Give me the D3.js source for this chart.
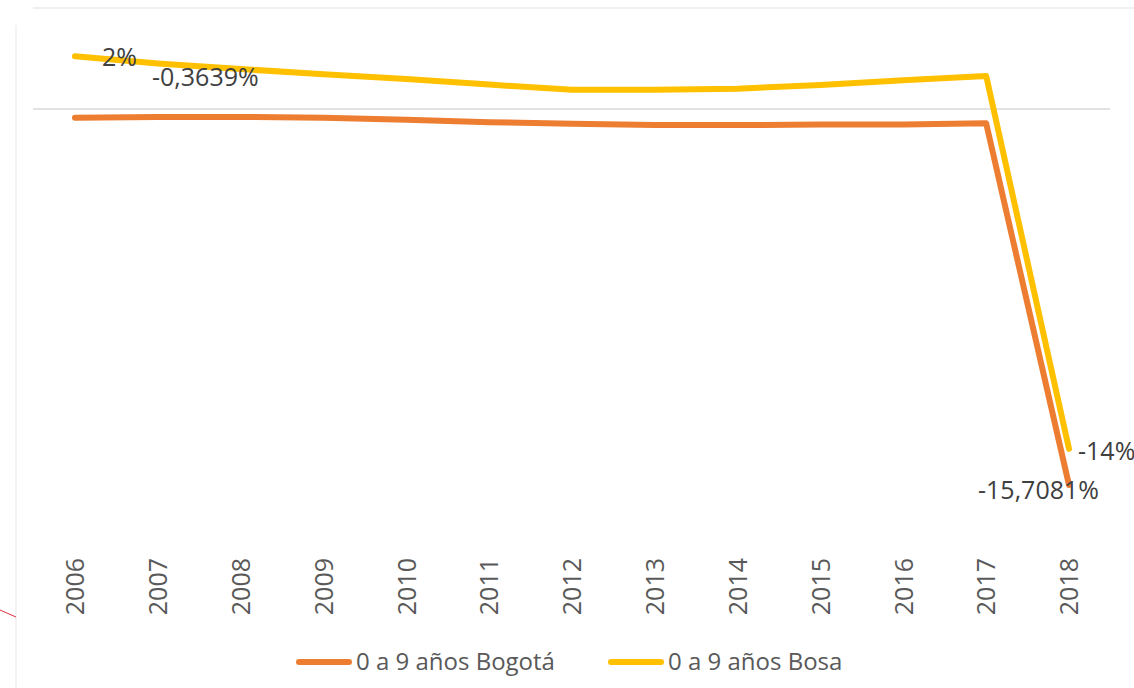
<!DOCTYPE html>
<html>
<head>
<meta charset="utf-8">
<script src="https://cdn.jsdelivr.net/npm/d3@7"></script>
<style>
  body { margin: 0; background: #fff; }
  text { font-family: "Open Sans", sans-serif; fill: #404040; }
</style>
</head>
<body>
<div id="container"></div>
<script>
const WIDTH = 1134;
const HEIGHT = 688;

// Data (percent)
const years = ['2006', '2007', '2008', '2009', '2010', '2011', '2012', '2013', '2014', '2015', '2016', '2017', '2018'];
const bogota = [-0.3639, -0.33, -0.33, -0.37, -0.45, -0.55, -0.62, -0.67, -0.67, -0.65, -0.65, -0.6, -15.7081];
const bosa = [2.2, 1.9, 1.67, 1.45, 1.25, 1.02, 0.8, 0.8, 0.85, 1.0, 1.2, 1.38, -14.2];
const seriesNames = ['0 a 9 años Bogotá', '0 a 9 años Bosa'];
const seriesColors = ['#ED7D31', '#FFC000'];

const svg = d3.select('#container').append('svg')
    .attr('width', WIDTH)
    .attr('height', HEIGHT);

// Faint frame of the pasted picture
svg.append('line').attr('x1', 33).attr('x2', WIDTH).attr('y1', 8).attr('y2', 8)
    .attr('stroke', '#f0f0f0').attr('stroke-width', 2);
svg.append('line').attr('x1', 16).attr('x2', 16).attr('y1', 25).attr('y2', HEIGHT)
    .attr('stroke', '#f3f3f3').attr('stroke-width', 2);
svg.append('line').attr('x1', 0).attr('x2', 16).attr('y1', 610).attr('y2', 617)
    .attr('stroke', '#e03040').attr('stroke-width', 1);

// Scales
const x = d3.scalePoint().domain(years).range([75, 1069]);
const y = d3.scaleLinear().domain([0, -15.7081]).range([109, 485]);

// Zero line
svg.append('line')
    .attr('x1', 33).attr('x2', 1110)
    .attr('y1', y(0)).attr('y2', y(0))
    .attr('stroke', '#d9d9d9').attr('stroke-width', 1.5);

// X axis labels
const xAxis = d3.axisBottom(x).tickSize(0).tickPadding(0);
const gx = svg.append('g')
    .attr('transform', 'translate(0,558)')
    .call(xAxis);
gx.select('.domain').remove();
gx.selectAll('text')
    .attr('transform', 'rotate(-90)')
    .attr('x', 0).attr('y', 0).attr('dy', '0.35em')
    .style('text-anchor', 'end')
    .style('font-family', '"Open Sans", sans-serif')
    .style('font-size', '25px')
    .style('fill', '#595959');

// Lines
const line = d3.line()
    .x((d, i) => x(years[i]))
    .y(d => y(d));

[bogota, bosa].forEach((vals, k) => {
  svg.append('path')
      .datum(vals)
      .attr('d', line)
      .attr('fill', 'none')
      .attr('stroke', seriesColors[k])
      .attr('stroke-width', 6)
      .attr('stroke-linejoin', 'round')
      .attr('stroke-linecap', 'round');
});

// Data labels
const labels = [
  { text: '2%', i: 0, vals: bosa, dx: 27, dy: 10 },
  { text: '-0,3639%', i: 0, vals: bogota, dx: 77, dy: -32 },
  { text: '-14%', i: 12, vals: bosa, dx: 9, dy: 11 },
  { text: '-15,7081%', i: 12, vals: bogota, dx: -91, dy: 14 }
];
svg.selectAll('.dlabel')
    .data(labels)
    .join('text')
    .attr('class', 'dlabel')
    .attr('x', d => x(years[d.i]) + d.dx)
    .attr('y', d => y(d.vals[d.i]) + d.dy)
    .style('font-size', '25px')
    .text(d => d.text);

// Legend
const legendX = [299, 611];
seriesNames.forEach((name, k) => {
  const g = svg.append('g').attr('transform', 'translate(' + legendX[k] + ',662)');
  g.append('line')
      .attr('x1', 0).attr('x2', 50)
      .attr('stroke', seriesColors[k])
      .attr('stroke-width', 6)
      .attr('stroke-linecap', 'round');
  g.append('text')
      .attr('x', 57).attr('dy', '0.35em')
      .style('font-size', '24px')
      .style('fill', '#595959')
      .text(name);
});
</script>
</body>
</html>
